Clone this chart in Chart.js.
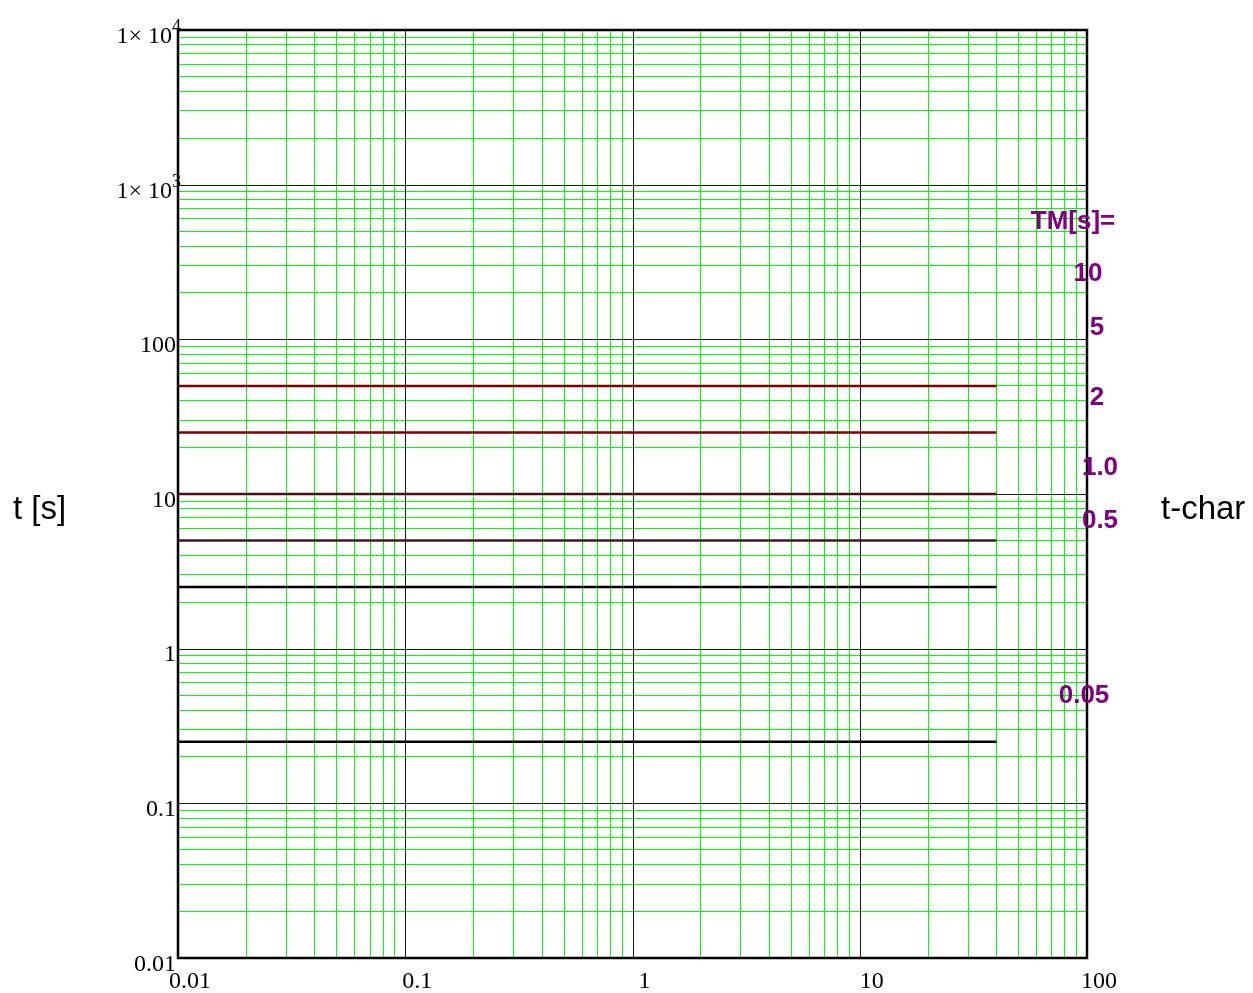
<!DOCTYPE html>
<html>
<head>
<meta charset="utf-8">
<title>t-char</title>
<script src="https://cdn.jsdelivr.net/npm/chart.js@4.4.1/dist/chart.umd.min.js"></script>
<style>
  html, body { margin: 0; padding: 0; background: #fff; }
  #wrap { position: relative; width: 1253px; height: 993px; }
</style>
</head>
<body>
<div id="wrap"><canvas id="tchar" width="1253" height="993"></canvas></div>
<script>
// time multiplier settings and the trip time they give (t = 5 * TM)
const tmLabels = ["10", "5", "2", "1.0", "0.5", "0.05"];
const tripTimes = [50, 25, 10, 5, 2.5, 0.25];
const currentRange = [0.01, 40];
const lineColors = ["#800000", "#800000", "#4a0c0c", "#3a1c1c", "#000000", "#000000"];

// axes
const xDecades = [0.01, 0.1, 1, 10, 100];
const yDecades = [0.01, 0.1, 1, 10, 100, 1000, 10000];
const xTickLabels = ["0.01", "0.1", "1", "10", "100"];
const yTickLabels = ["0.01", "0.1", "1", "10", "100", "1\u00d7 10|3", "1\u00d7 10|4"];
const minorSteps = [2, 3, 4, 5, 6, 7, 8, 9];

// minor log grid: 2..9 in every decade (decade lines drawn separately)
function minorTicks(decades) {
  const out = [];
  for (let i = 0; i < decades.length - 1; i++) {
    minorSteps.forEach(s => out.push({ value: decades[i] * s }));
  }
  return out;
}

const datasets = tripTimes.map((t, i) => ({
  label: "TM=" + tmLabels[i],
  data: currentRange.map(x => ({ x: x, y: t })),
  borderColor: lineColors[i],
  borderWidth: 2.5,
  pointRadius: 0,
  fill: false
}));

// dark lines at each decade, under the curves
const decadePlugin = {
  id: "decades",
  beforeDatasetsDraw(chart) {
    const { ctx, chartArea: a, scales } = chart;
    ctx.save();
    ctx.strokeStyle = "#1a1a1a";
    ctx.lineWidth = 1;
    ctx.beginPath();
    xDecades.forEach(v => {
      const px = Math.round(scales.x.getPixelForValue(v)) + 0.5;
      ctx.moveTo(px, a.top);
      ctx.lineTo(px, a.bottom);
    });
    yDecades.forEach(v => {
      const py = Math.round(scales.y.getPixelForValue(v)) + 0.5;
      ctx.moveTo(a.left, py);
      ctx.lineTo(a.right, py);
    });
    ctx.stroke();
    ctx.restore();
  }
};

// frame, tick labels, axis titles and TM legend text
const labelsPlugin = {
  id: "labels",
  afterDraw(chart) {
    const { ctx, chartArea: a, scales } = chart;
    ctx.save();
    ctx.strokeStyle = "#000";
    ctx.lineWidth = 2.5;
    ctx.strokeRect(a.left, a.top, a.right - a.left, a.bottom - a.top);

    ctx.fillStyle = "#000";
    ctx.textBaseline = "alphabetic";

    // x tick labels
    ctx.font = "24px 'Liberation Serif', 'Times New Roman', serif";
    ctx.textAlign = "center";
    xDecades.forEach((v, i) => {
      const px = scales.x.getPixelForValue(v);
      ctx.fillText(xTickLabels[i], px + 12, a.bottom + 30);
    });

    // y tick labels, superscript after "|"
    yDecades.forEach((v, i) => {
      const py = scales.y.getPixelForValue(v);
      const parts = yTickLabels[i].split("|");
      if (parts.length > 1) {
        ctx.font = "24px 'Liberation Serif', 'Times New Roman', serif";
        ctx.textAlign = "right";
        ctx.fillText(parts[0], a.left - 6, py + 13);
        ctx.font = "18px 'Liberation Serif', 'Times New Roman', serif";
        ctx.textAlign = "left";
        ctx.fillText(parts[1], a.left - 6, py + 2);
      } else {
        ctx.font = "24px 'Liberation Serif', 'Times New Roman', serif";
        ctx.textAlign = "right";
        ctx.fillText(parts[0], a.left - 2, py + 12.5);
      }
    });

    // axis titles
    ctx.font = "33px 'Liberation Sans', Arial, sans-serif";
    ctx.textAlign = "left";
    ctx.fillText("t [s]", 13, 519);
    ctx.fillText("t-char", 1161, 519);

    // TM legend
    ctx.fillStyle = "#800080";
    ctx.font = "bold 26px 'Liberation Sans', Arial, sans-serif";
    ctx.textAlign = "center";
    ctx.fillText("TM[s]=", 1073, 229);
    const tmPos = [[1088, 281], [1097, 335], [1097, 405], [1100, 475], [1100, 528], [1084, 703]];
    tmLabels.forEach((s, i) => ctx.fillText(s, tmPos[i][0], tmPos[i][1]));
    ctx.restore();
  }
};

new Chart(document.getElementById("tchar"), {
  type: "line",
  data: { datasets: datasets },
  options: {
    responsive: false,
    animation: false,
    devicePixelRatio: 1,
    layout: { padding: { left: 178, right: 166, top: 30, bottom: 35 } },
    plugins: { legend: { display: false }, tooltip: { enabled: false } },
    scales: {
      x: {
        type: "logarithmic",
        min: 0.01,
        max: 100,
        afterBuildTicks: (scale) => { scale.ticks = minorTicks(xDecades); },
        grid: { color: "#00ff00", lineWidth: 1, drawTicks: false },
        border: { display: false },
        ticks: { display: false, autoSkip: false }
      },
      y: {
        type: "logarithmic",
        min: 0.01,
        max: 10000,
        afterBuildTicks: (scale) => { scale.ticks = minorTicks(yDecades); },
        grid: { color: "#00ff00", lineWidth: 1, drawTicks: false },
        border: { display: false },
        ticks: { display: false, autoSkip: false }
      }
    }
  },
  plugins: [decadePlugin, labelsPlugin]
});
</script>
</body>
</html>
